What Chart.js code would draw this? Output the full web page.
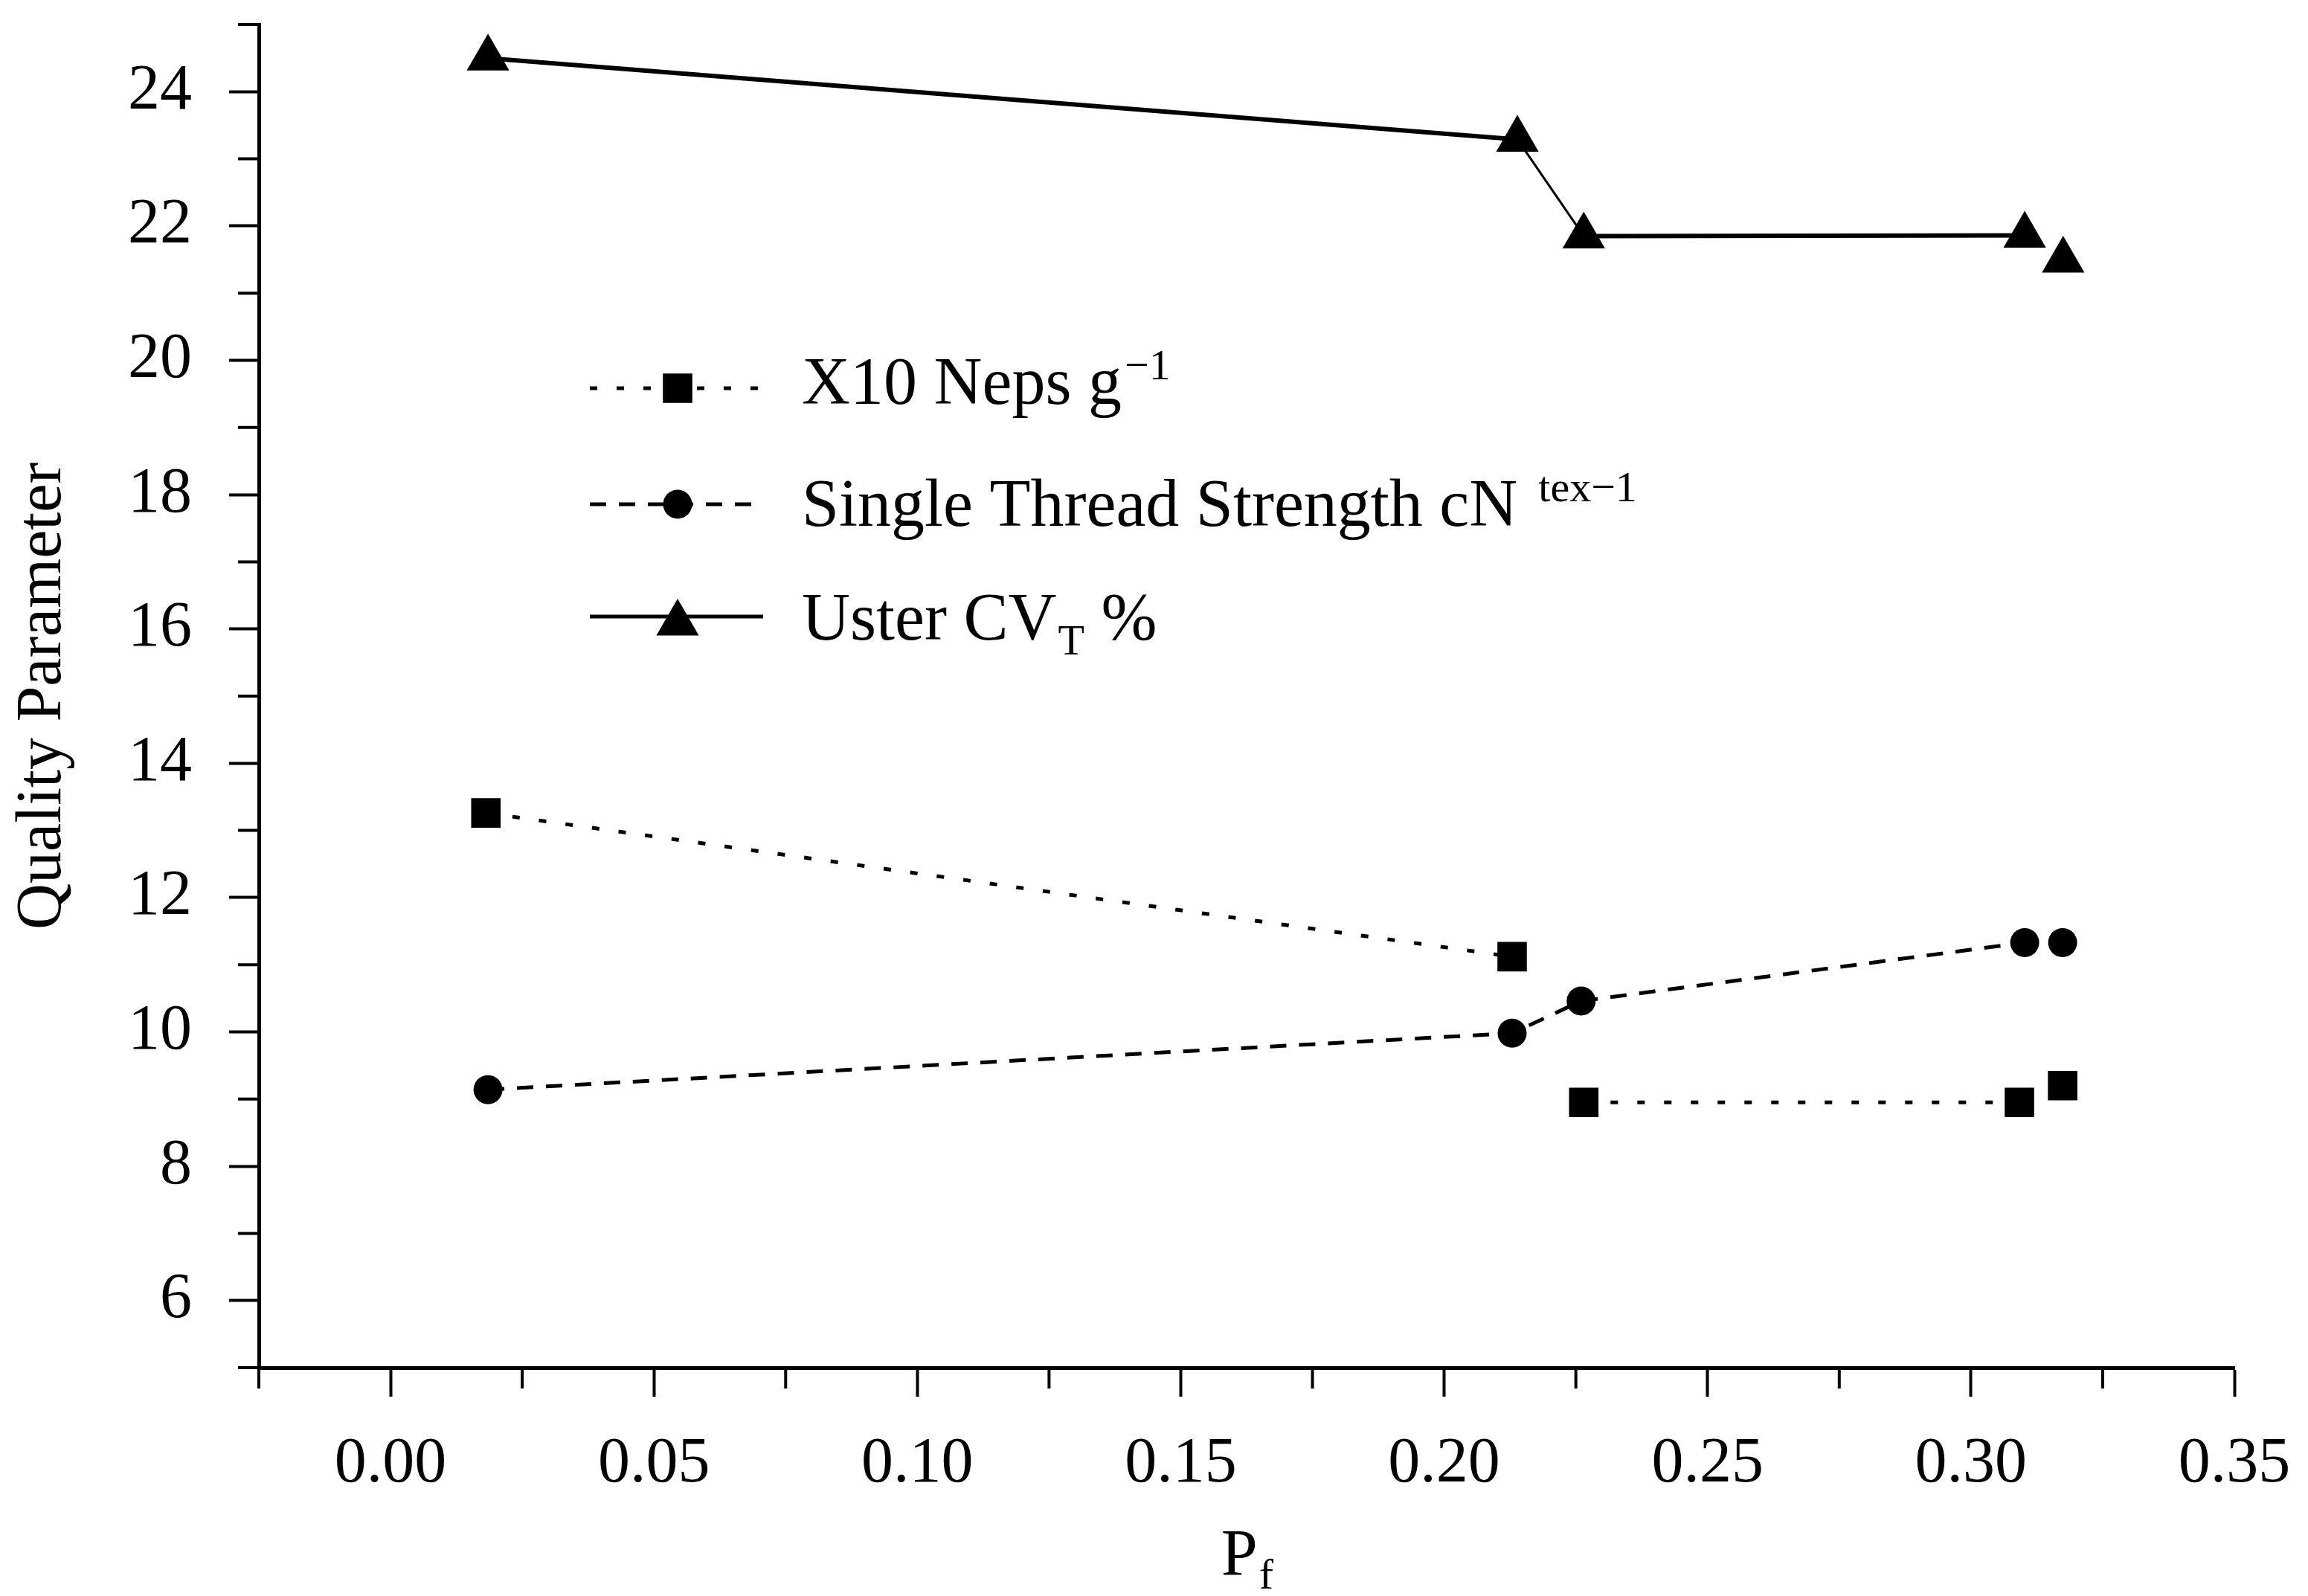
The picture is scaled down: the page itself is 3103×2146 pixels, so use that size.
<!DOCTYPE html>
<html>
<head>
<meta charset="utf-8">
<script src="https://cdn.jsdelivr.net/npm/chart.js@4.4.1/dist/chart.umd.min.js"></script>
<style>
  html, body { margin: 0; padding: 0; background: #fff; }
  canvas { display: block; }
</style>
</head>
<body>
<canvas id="chart" width="3103" height="2146"></canvas>
<script>
// Values
const pfNeps = [0.0181, 0.2129, 0.2265, 0.3092, 0.3174];
const neps = [13.26, 11.12, 8.95, 8.95, 9.20];
const nepsLinks = [true, false, true, false];

const pfStrength = [0.0185, 0.2129, 0.2260, 0.3102, 0.3174];
const strength = [9.14, 9.98, 10.46, 11.33, 11.33];
const strengthLinks = [true, true, true, false];

const pfUster = [0.0185, 0.2139, 0.2265, 0.3102, 0.3175];
const uster = [24.50, 23.29, 21.85, 21.86, 21.49];
const usterLinks = [true, true, true, false];

const xTicks = ['0.00', '0.05', '0.10', '0.15', '0.20', '0.25', '0.30', '0.35'];
const yTicks = [6, 8, 10, 12, 14, 16, 18, 20, 22, 24];

const FONT = '"Liberation Serif", "Times New Roman", serif';
const nepsDash = [10, 26];
const strengthDash = [22, 17];

function toPoints(xs, ys) {
    return xs.map((x, i) => ({ x: x, y: ys[i] }));
}

function linkColor(links) {
    return ctx => links[ctx.p0DataIndex] ? '#000' : 'rgba(0,0,0,0)';
}

function noPadding(scale) {
    scale.paddingTop = 0;
    scale.paddingBottom = 0;
    scale.paddingLeft = 0;
    scale.paddingRight = 0;
}

// Minor ticks, x title and the in-plot legend
const extras = {
    id: 'extras',
    afterDraw(chart) {
        const ctx = chart.ctx;
        const xs = chart.scales.x, ys = chart.scales.y;
        const area = chart.chartArea;
        ctx.save();
        ctx.strokeStyle = '#000';
        ctx.lineWidth = 4;
        ctx.beginPath();
        for (let i = 0; i < 8; i++) {
            const px = xs.getPixelForValue(-0.025 + i * 0.05);
            ctx.moveTo(px, area.bottom);
            ctx.lineTo(px, area.bottom + 28);
        }
        for (let v = 5; v <= 25; v += 2) {
            const py = ys.getPixelForValue(v);
            ctx.moveTo(area.left, py);
            ctx.lineTo(area.left - 28, py);
        }
        ctx.stroke();

        // x axis title P_f
        ctx.fillStyle = '#000';
        ctx.textBaseline = 'alphabetic';
        ctx.textAlign = 'left';
        ctx.font = '88px ' + FONT;
        const cx = (area.left + area.right) / 2;
        const pW = ctx.measureText('P').width;
        ctx.font = '58px ' + FONT;
        const fW = ctx.measureText('f').width;
        const startX = cx - (pW + fW) / 2;
        ctx.font = '88px ' + FONT;
        ctx.fillText('P', startX, 2117);
        ctx.font = '58px ' + FONT;
        ctx.fillText('f', startX + pW + 2, 2136);

        // legend
        const rows = [
            { dash: nepsDash, style: 'rect', radius: 28, y: 522, text: 'X10 Neps g', sup: '\u22121', supGap: 4, base: 543 },
            { dash: strengthDash, style: 'circle', radius: 19.5, y: 678, text: 'Single Thread Strength cN', sup: 'tex\u22121', supGap: 28, base: 707 },
            { dash: [], style: 'triangle', radius: 33, y: 829, text: 'Uster CV', sub: 'T', tail: ' %', base: 860 }
        ];
        rows.forEach(r => {
            ctx.save();
            ctx.setLineDash(r.dash);
            ctx.lineWidth = 5;
            ctx.beginPath();
            ctx.moveTo(793, r.y);
            ctx.lineTo(1026, r.y);
            ctx.stroke();
            ctx.restore();
            const my = r.style === 'triangle' ? r.y + 9 : r.y;
            ctx.fillStyle = '#000';
            Chart.helpers.drawPoint(ctx, { pointStyle: r.style, radius: r.radius, rotation: 0, borderWidth: 0 }, 911, my);
            ctx.fillStyle = '#000';
            ctx.font = '90px ' + FONT;
            ctx.fillText(r.text, 1078, r.base);
            let tx = 1078 + ctx.measureText(r.text).width;
            if (r.sup) {
                ctx.font = '58px ' + FONT;
                ctx.fillText(r.sup, tx + r.supGap, r.base - 33);
            }
            if (r.sub) {
                ctx.font = '58px ' + FONT;
                ctx.fillText(r.sub, tx + 2, r.base + 20);
                tx += 2 + ctx.measureText(r.sub).width;
                ctx.font = '90px ' + FONT;
                ctx.fillText(r.tail, tx, r.base);
            }
        });
        ctx.restore();
    }
};

const myChart = new Chart(document.getElementById('chart'), {
    type: 'line',
    data: {
        datasets: [{
            label: 'X10 Neps g\u207B\u00B9',
            data: toPoints(pfNeps, neps),
            borderColor: '#000',
            borderWidth: 5,
            borderDash: nepsDash,
            pointStyle: 'rect',
            pointRadius: 28,
            pointBackgroundColor: '#000',
            pointBorderWidth: 0,
            segment: { borderColor: linkColor(nepsLinks) }
        }, {
            label: 'Single Thread Strength cN tex\u207B\u00B9',
            data: toPoints(pfStrength, strength),
            borderColor: '#000',
            borderWidth: 5,
            borderDash: strengthDash,
            pointStyle: 'circle',
            pointRadius: 19.5,
            pointBackgroundColor: '#000',
            pointBorderWidth: 0,
            segment: { borderColor: linkColor(strengthLinks) }
        }, {
            label: 'Uster CVT %',
            data: toPoints(pfUster, uster),
            borderColor: '#000',
            borderWidth: 6,
            pointStyle: 'triangle',
            pointRadius: 33,
            pointBackgroundColor: '#000',
            pointBorderWidth: 0,
            segment: {
                borderColor: linkColor(usterLinks),
                borderWidth: ctx => ctx.p0DataIndex === 1 ? 3 : 6
            }
        }]
    },
    options: {
        responsive: false,
        animation: false,
        layout: { padding: { top: 31, right: 99, left: 0, bottom: 0 } },
        plugins: {
            legend: { display: false },
            tooltip: { enabled: false }
        },
        scales: {
            x: {
                type: 'linear',
                min: -0.025,
                max: 0.35,
                afterFit: scale => { scale.height = 307; noPadding(scale); },
                border: { display: true, color: '#000', width: 5 },
                grid: {
                    display: true,
                    drawOnChartArea: false,
                    drawTicks: true,
                    tickLength: 39,
                    tickWidth: 4,
                    tickColor: '#000'
                },
                ticks: {
                    stepSize: 0.025,
                    autoSkip: false,
                    maxRotation: 0,
                    padding: 40,
                    color: '#000',
                    font: { family: FONT, size: 86 },
                    callback: value => {
                        const m = Math.round(value * 1000);
                        if (m % 50 !== 0) return null;
                        const label = (m / 1000).toFixed(2);
                        return xTicks.includes(label) ? label : null;
                    }
                }
            },
            y: {
                min: 5,
                max: 25,
                afterFit: scale => { scale.width = 348; noPadding(scale); },
                border: { display: true, color: '#000', width: 5 },
                grid: {
                    display: true,
                    drawOnChartArea: false,
                    drawTicks: true,
                    tickLength: 40,
                    tickWidth: 4,
                    tickColor: '#000'
                },
                ticks: {
                    stepSize: 1,
                    autoSkip: false,
                    padding: 50,
                    color: '#000',
                    font: { family: FONT, size: 86 },
                    callback: value => {
                        const v = Math.round(value);
                        return yTicks.includes(v) ? String(v) : null;
                    }
                },
                title: {
                    display: true,
                    text: 'Quality Parameter',
                    color: '#000',
                    font: { family: FONT, size: 86 },
                    padding: { top: 7, bottom: 0 }
                }
            }
        }
    },
    plugins: [extras]
});
</script>
</body>
</html>
